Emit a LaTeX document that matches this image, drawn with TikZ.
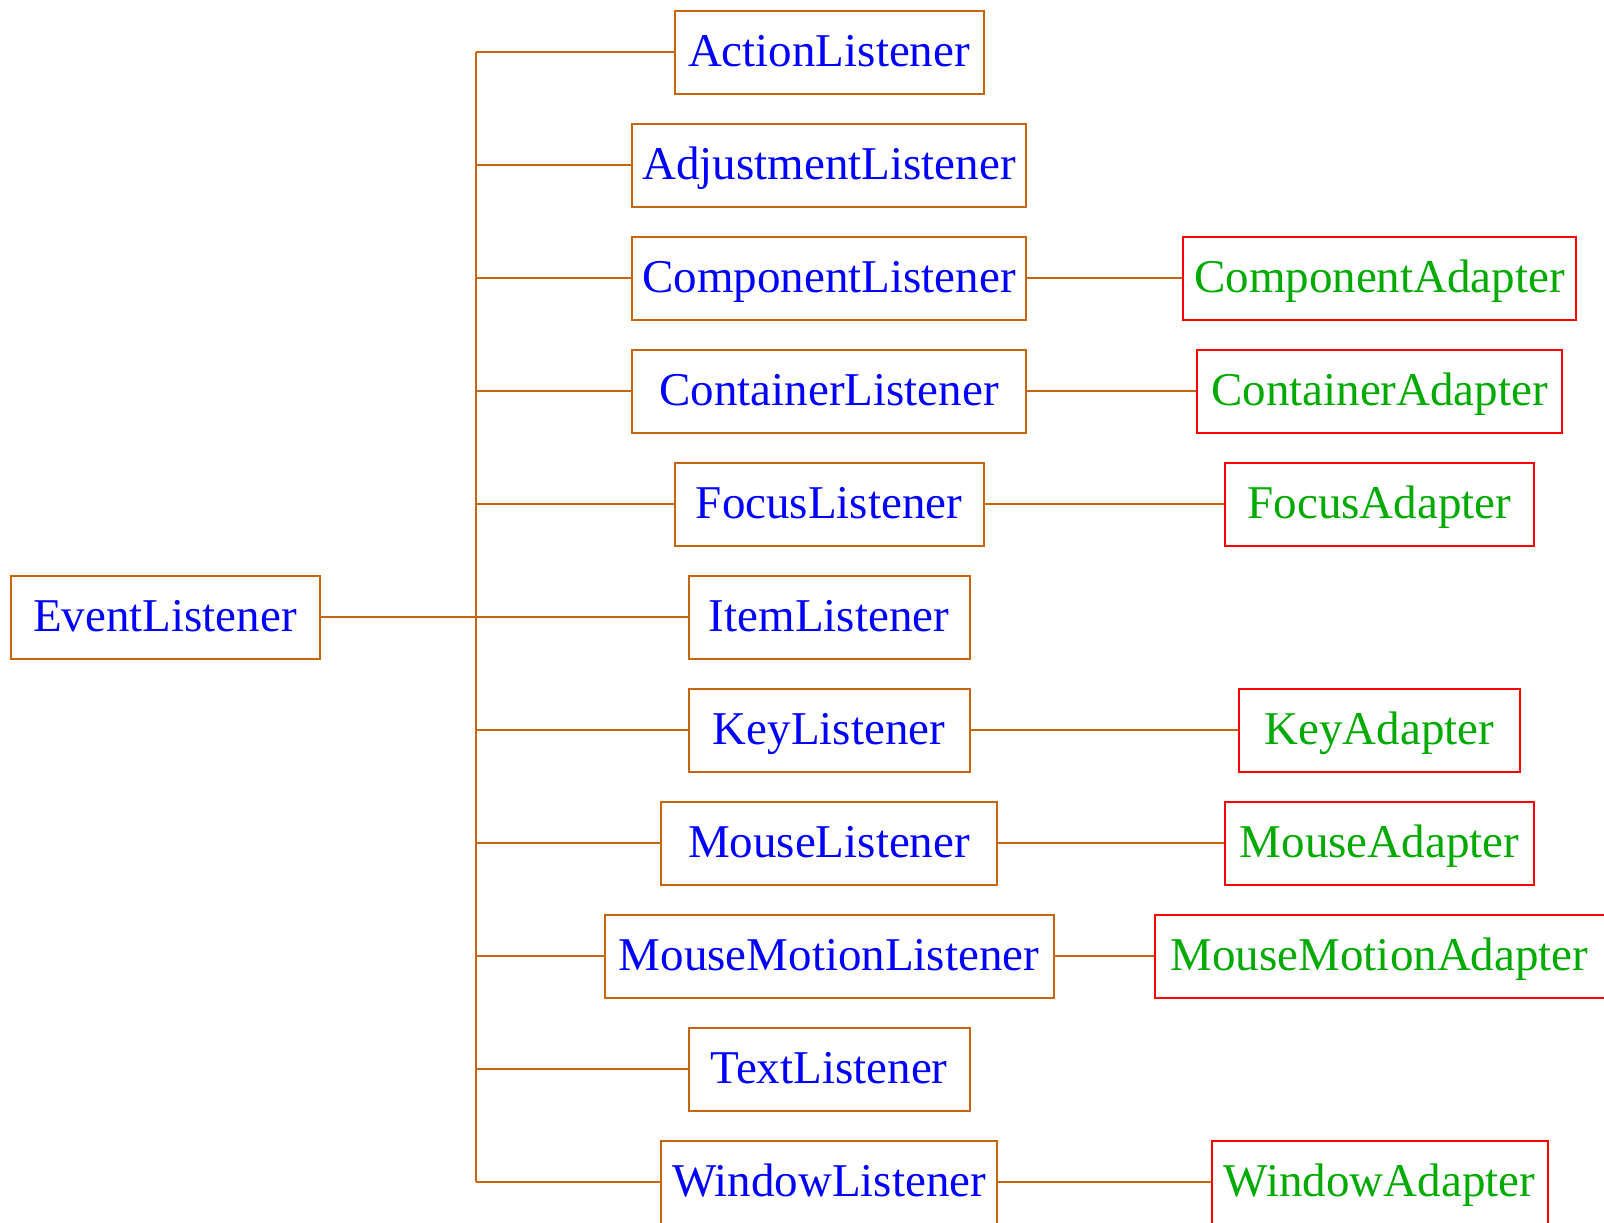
\documentclass[tikz,border=0pt]{standalone}
\usepackage{fontspec}
\setmainfont{Liberation Serif}
\definecolor{edgec}{RGB}{200,100,10}
\definecolor{lblue}{RGB}{0,0,255}
\definecolor{agreen}{RGB}{0,170,0}
\definecolor{ared}{RGB}{255,0,0}
\begin{document}
\begin{tikzpicture}[x=0.5pt,y=-0.5pt,
  base/.style={line width=1pt,inner xsep=0pt,inner ysep=0pt,minimum height=41.5pt,
    font=\fontsize{23.5}{28}\selectfont,text height=18.8pt,text depth=4.7pt},
  lbox/.style={base,draw=edgec,text=lblue},
  abox/.style={base,draw=ared,text=agreen},
  conn/.style={draw=edgec,line width=1pt}]
\useasboundingbox (0,0) rectangle (1604,1222);
\node[lbox,minimum width=154.5pt] (ev) at (165,617) {EventListener};
\foreach \n/\t/\w [count=\i from 0] in {l0/ActionListener/311,l1/AdjustmentListener/396,l2/ComponentListener/396,l3/ContainerListener/396,l4/FocusListener/311,l5/ItemListener/283,l6/KeyListener/283,l7/MouseListener/338,l8/MouseMotionListener/451,l9/TextListener/283,l10/WindowListener/338}{
  \node[lbox,minimum width={(\w-2)*0.5pt}] (\n) at (829,52+113*\i) {\t};
  \coordinate (s\i) at (475.5,52+113*\i);
}
\foreach \n/\t/\i/\w in {a2/ComponentAdapter/2/395,a3/ContainerAdapter/3/367.5,a4/FocusAdapter/4/311,a6/KeyAdapter/6/282.5,a7/MouseAdapter/7/311,a8/MouseMotionAdapter/8/452,a10/WindowAdapter/10/338}{
  \node[abox,minimum width={(\w-2)*0.5pt}] (\n) at (1379.5,52+113*\i) {\t};
}
\draw[conn] (s0) -- (s10);
\draw[conn] (ev) -- (l5);
\foreach \i in {0,1,2,3,4,6,7,8,9,10}{
  \draw[conn] (s\i) -- (l\i);
}
\foreach \i in {2,3,4,6,7,8,10}{
  \draw[conn] (l\i) -- (a\i);
}
\end{tikzpicture}
\end{document}
